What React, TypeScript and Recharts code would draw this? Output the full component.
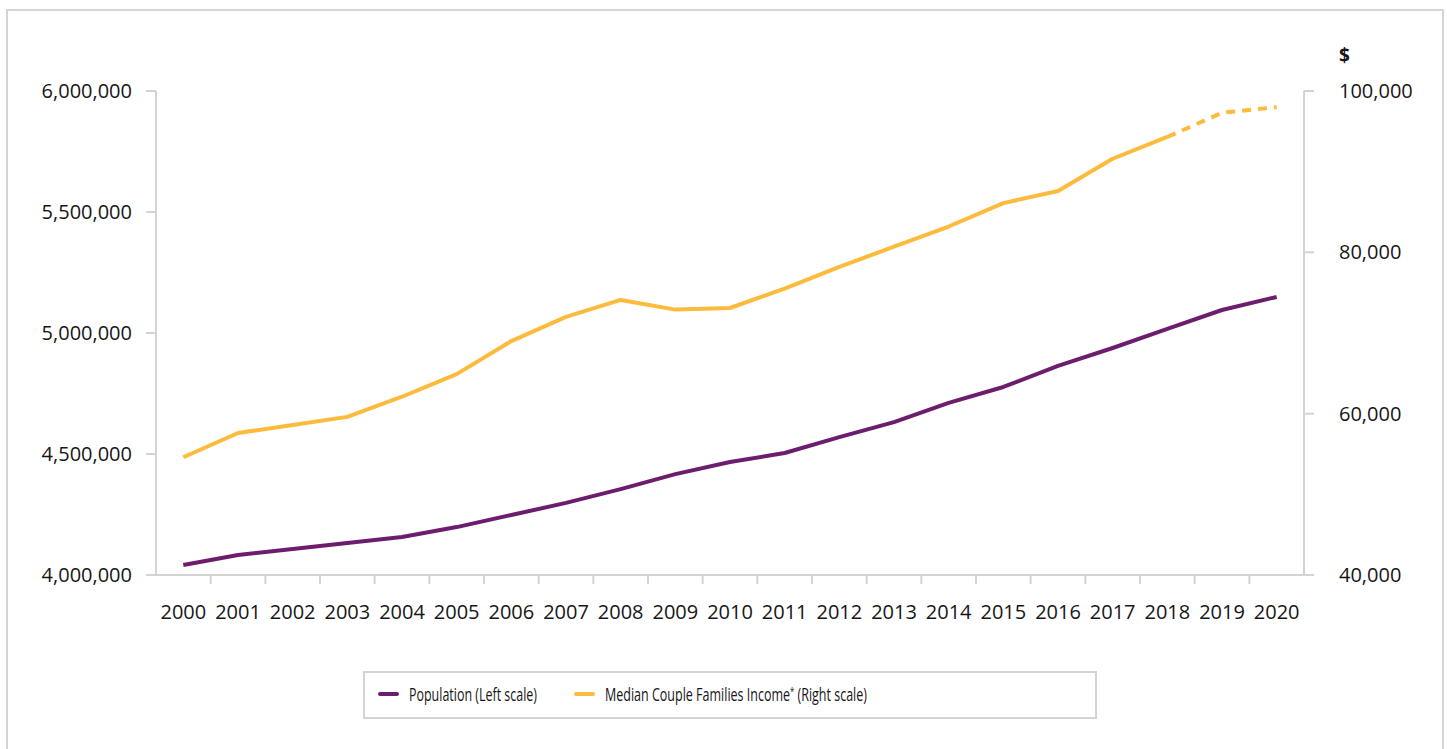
import React from 'react';
import { LineChart, Line, XAxis, YAxis, Legend } from 'recharts';

const YEARS = [
  '2000', '2001', '2002', '2003', '2004', '2005', '2006', '2007', '2008', '2009', '2010',
  '2011', '2012', '2013', '2014', '2015', '2016', '2017', '2018', '2019', '2020',
];

// Population (left scale)
const POPULATION = [
  4041000, 4083000, 4107000, 4132000, 4157000, 4198000, 4248000, 4298000, 4355000, 4417000,
  4467000, 4504000, 4570000, 4632000, 4711000, 4777000, 4864000, 4938000, 5017000, 5095000,
  5149000,
];

// Median couple families income (right scale), dashed from the projection year on
const INCOME = [
  54600, 57600, 58600, 59600, 62100, 64900, 69000, 72000, 74100, 72900,
  73100, 75500, 78200, 80700, 83200, 86100, 87600, 91600, 94300, 97300,
  98000,
];
const PROJECTION_START = '2018';

const LEFT_TICKS = [4000000, 4500000, 5000000, 5500000, 6000000];
const RIGHT_TICKS = [40000, 60000, 80000, 100000];

const PURPLE = '#6c1d6e';
const YELLOW = '#fdbb3d';
const AXIS = '#d3d3d3';
const TEXT = '#161616';
const FONT = "'Open Sans', sans-serif";

const W = 1447;
const H = 749;
const PLOT_LEFT = 156;
const PLOT_RIGHT = 1304;
const PLOT_TOP = 91;
const PLOT_BOTTOM = 575;
const STEP = (PLOT_RIGHT - PLOT_LEFT) / YEARS.length;

const projIdx = YEARS.indexOf(PROJECTION_START);
const data = YEARS.map((year, i) => ({
  year,
  population: POPULATION[i],
  income: i <= projIdx ? INCOME[i] : null,
  incomeProj: i >= projIdx ? INCOME[i] : null,
}));

const fmt = (v: number) => v.toLocaleString('en-US');

function YearTick(props: any) {
  const { x, y, payload, index } = props;
  return (
    <g>
      {index < YEARS.length - 1 && (
        <line x1={x + STEP / 2} x2={x + STEP / 2} y1={y} y2={y + 9} stroke={AXIS} strokeWidth={2} />
      )}
      <text x={x} y={y + 44} textAnchor="middle" fontSize={20} fontFamily={FONT} fill={TEXT}>
        {payload.value}
      </text>
    </g>
  );
}

// legend item placement inside the box (x offset of swatch, rendered text width)
const LEGEND_LAYOUT: Record<string, { x: number; textWidth: number }> = {
  population: { x: 15, textWidth: 128 },
  income: { x: 211, textWidth: 262 },
};

function LegendLabel({ value }: { value: string }) {
  const parts = String(value).split('*');
  if (parts.length < 2) return <>{value}</>;
  return (
    <>
      {parts[0]}
      <tspan fontSize={11} dy={-6}>*</tspan>
      <tspan dy={6}>{parts[1]}</tspan>
    </>
  );
}

function LegendBox(props: any) {
  const items = (props.payload || []).filter((p: any) => LEGEND_LAYOUT[p.dataKey]);
  return (
    <div style={{ width: 734, height: 48, border: `2px solid ${AXIS}`, boxSizing: 'border-box', background: '#fff' }}>
      <svg width={730} height={44} style={{ display: 'block' }}>
        {items.map((item: any) => {
          const l = LEGEND_LAYOUT[item.dataKey];
          return (
            <g key={item.dataKey}>
              <line x1={l.x} x2={l.x + 17} y1={21} y2={21} stroke={item.color} strokeWidth={4} strokeLinecap="round" />
              <text
                x={l.x + 29}
                y={28}
                fontSize={18}
                fontFamily={FONT}
                fill={TEXT}
                textLength={l.textWidth}
                lengthAdjust="spacingAndGlyphs"
              >
                <LegendLabel value={item.value} />
              </text>
            </g>
          );
        })}
      </svg>
    </div>
  );
}

export default function App() {
  return (
    <div style={{ position: 'absolute', left: 0, top: 0, width: W, height: H, overflow: 'hidden', background: '#fff' }}>
      <div
        style={{
          position: 'absolute',
          left: 6,
          top: 9,
          width: 1438,
          height: 800,
          border: '2px solid #d4d5dc',
          boxSizing: 'border-box',
        }}
      />
      <div style={{ position: 'absolute', left: 0, top: 0 }}>
        <LineChart width={W} height={H} data={data} margin={{ top: PLOT_TOP, right: 0, bottom: 0, left: 0 }}>
          <XAxis
            dataKey="year"
            height={H - PLOT_BOTTOM}
            padding={{ left: STEP / 2, right: STEP / 2 }}
            interval={0}
            tickSize={0}
            tickMargin={0}
            tickLine={false}
            axisLine={{ stroke: AXIS, strokeWidth: 2 }}
            tick={<YearTick />}
          />
          <YAxis
            yAxisId="left"
            width={PLOT_LEFT}
            domain={[4000000, 6000000]}
            ticks={LEFT_TICKS}
            tickFormatter={fmt}
            tickSize={10}
            tickMargin={14}
            axisLine={{ stroke: AXIS, strokeWidth: 2 }}
            tickLine={{ stroke: AXIS, strokeWidth: 2 }}
            tick={{ fontSize: 20, fontFamily: FONT, fill: TEXT }}
          />
          <YAxis
            yAxisId="right"
            orientation="right"
            width={W - PLOT_RIGHT}
            domain={[40000, 100000]}
            ticks={RIGHT_TICKS}
            tickFormatter={fmt}
            tickSize={10}
            tickMargin={25}
            axisLine={{ stroke: AXIS, strokeWidth: 2 }}
            tickLine={{ stroke: AXIS, strokeWidth: 2 }}
            tick={{ fontSize: 20, fontFamily: FONT, fill: TEXT }}
            label={(p: any) => (
              <text
                x={p.viewBox.x + 35}
                y={p.viewBox.y - 29}
                fontSize={19}
                fontWeight="bold"
                fontFamily={FONT}
                fill={TEXT}
              >
                $
              </text>
            )}
          />
          <Legend
            layout="vertical"
            align="center"
            verticalAlign="middle"
            content={<LegendBox />}
            wrapperStyle={{ position: 'absolute', left: 363, top: 671, width: 734, height: 48 }}
          />
          <Line
            yAxisId="left"
            type="linear"
            dataKey="population"
            name="Population (Left scale)"
            stroke={PURPLE}
            strokeWidth={4}
            strokeLinejoin="round"
            dot={false}
            activeDot={false}
            isAnimationActive={false}
          />
          <Line
            yAxisId="right"
            type="linear"
            dataKey="income"
            name="Median Couple Families Income* (Right scale)"
            stroke={YELLOW}
            strokeWidth={4}
            strokeLinejoin="round"
            dot={false}
            activeDot={false}
            isAnimationActive={false}
          />
          <Line
            yAxisId="right"
            type="linear"
            dataKey="incomeProj"
            name="Projected income"
            legendType="none"
            stroke={YELLOW}
            strokeWidth={4}
            strokeDasharray="9 7"
            strokeLinejoin="round"
            dot={false}
            activeDot={false}
            isAnimationActive={false}
          />
        </LineChart>
      </div>
    </div>
  );
}
